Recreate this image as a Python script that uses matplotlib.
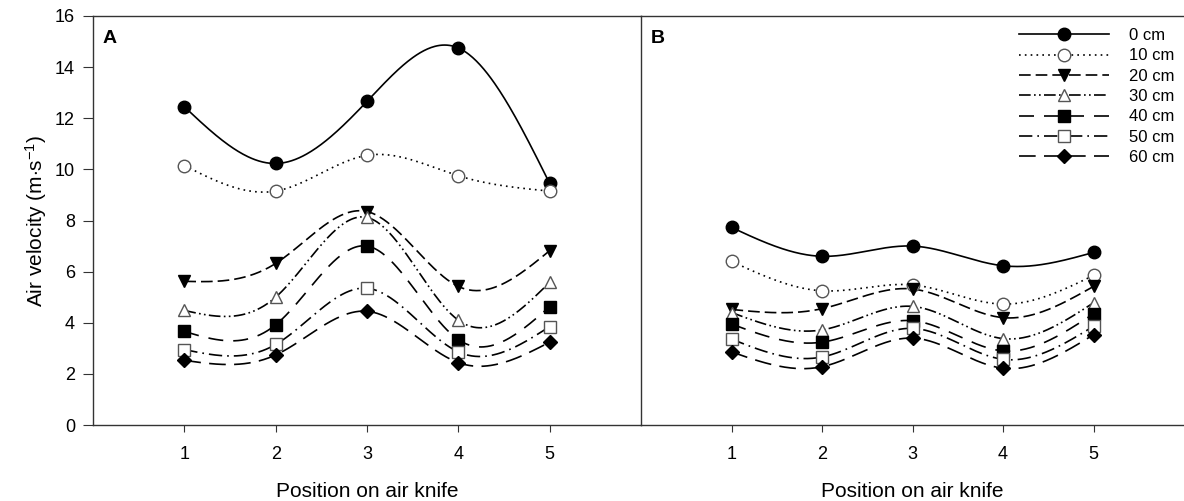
import numpy as np
import matplotlib
matplotlib.use("Agg")
import matplotlib.pyplot as plt

plt.rcParams['font.family'] = ['Liberation Sans', 'DejaVu Sans']
plt.rcParams['mathtext.fontset'] = 'custom'
plt.rcParams['mathtext.rm'] = 'Liberation Sans'
plt.rcParams['mathtext.it'] = 'Liberation Sans'

positions = [1, 2, 3, 4, 5]
heights = ["0 cm", "10 cm", "20 cm", "30 cm", "40 cm", "50 cm", "60 cm"]

# panel A air velocity (m/s) for each distance below the knife
vel_a_0 = [12.45, 10.23, 12.66, 14.75, 9.45]
vel_a_10 = [10.15, 9.15, 10.55, 9.75, 9.15]
vel_a_20 = [5.62, 6.32, 8.35, 5.42, 6.82]
vel_a_30 = [4.48, 5.0, 8.12, 4.1, 5.58]
vel_a_40 = [3.66, 3.92, 7.0, 3.34, 4.63]
vel_a_50 = [2.95, 3.15, 5.35, 2.86, 3.85]
vel_a_60 = [2.53, 2.74, 4.45, 2.44, 3.24]

# panel B
vel_b_0 = [7.73, 6.6, 7.0, 6.23, 6.75]
vel_b_10 = [6.4, 5.25, 5.48, 4.73, 5.85]
vel_b_20 = [4.52, 4.55, 5.32, 4.2, 5.42]
vel_b_30 = [4.4, 3.72, 4.64, 3.38, 4.78]
vel_b_40 = [3.95, 3.24, 4.08, 2.9, 4.35]
vel_b_50 = [3.36, 2.66, 3.78, 2.57, 3.86]
vel_b_60 = [2.86, 2.28, 3.4, 2.22, 3.53]

series_a = [vel_a_0, vel_a_10, vel_a_20, vel_a_30, vel_a_40, vel_a_50, vel_a_60]
series_b = [vel_b_0, vel_b_10, vel_b_20, vel_b_30, vel_b_40, vel_b_50, vel_b_60]

styles = [
    dict(marker='o', mfc='black', ms=9, dashes=()),
    dict(marker='o', mfc='white', ms=9, dashes=(1, 2.5)),
    dict(marker='v', mfc='black', ms=9, dashes=(7, 3)),
    dict(marker='^', mfc='white', ms=9, dashes=(7, 2, 1, 2, 1, 2)),
    dict(marker='s', mfc='black', ms=8, dashes=(9, 6)),
    dict(marker='s', mfc='white', ms=8, dashes=(8, 3, 1, 3)),
    dict(marker='D', mfc='black', ms=7, dashes=(10, 5)),
]


def natural_spline(x, y, n=300):
    x = np.asarray(x, float)
    y = np.asarray(y, float)
    h = np.diff(x)
    k = len(x)
    A = np.zeros((k, k))
    r = np.zeros(k)
    A[0, 0] = A[-1, -1] = 1
    for i in range(1, k - 1):
        A[i, i - 1] = h[i - 1]
        A[i, i] = 2 * (h[i - 1] + h[i])
        A[i, i + 1] = h[i]
        r[i] = 6 * ((y[i + 1] - y[i]) / h[i] - (y[i] - y[i - 1]) / h[i - 1])
    m = np.linalg.solve(A, r)
    xs = np.linspace(x[0], x[-1], n)
    j = np.clip(np.searchsorted(x, xs) - 1, 0, k - 2)
    t0 = x[j + 1] - xs
    t1 = xs - x[j]
    hj = h[j]
    ys = (m[j] * t0**3 + m[j + 1] * t1**3) / (6 * hj) \
        + (y[j] / hj - m[j] * hj / 6) * t0 \
        + (y[j + 1] / hj - m[j + 1] * hj / 6) * t1
    return xs, ys


fig = plt.figure(figsize=(11.84, 5.01), dpi=100)
ax_a = fig.add_axes([93 / 1184, 1 - 425 / 501, 548 / 1184, 409 / 501])
ax_b = fig.add_axes([641 / 1184, 1 - 425 / 501, 543 / 1184, 409 / 501])

spine_col = '#333333'
for ax, data, letter in [(ax_a, series_a, 'A'), (ax_b, series_b, 'B')]:
    for vals, st, lab in zip(data, styles, heights):
        xs, ys = natural_spline(positions, vals)
        ax.plot(xs, ys, color='black', lw=1.2, dashes=st['dashes'], zorder=2)
        ax.plot(positions, vals, ls='none', marker=st['marker'], ms=st['ms'],
                mfc=st['mfc'], mec='black' if st['mfc'] == 'black' else '#555555',
                mew=1.0, zorder=3)
    ax.set_xlim(0, 6)
    ax.set_ylim(0, 16)
    ax.set_xticks(positions)
    ax.tick_params(axis='x', direction='out', length=5, width=0.8,
                   colors=spine_col, labelcolor='black', labelsize=13, pad=10)
    ax.set_xlabel('Position on air knife', fontsize=15, labelpad=14)
    ax.text(0.018, 0.965, letter, transform=ax.transAxes, fontsize=14,
            fontweight='bold', va='top', ha='left')
    for s in ax.spines.values():
        s.set_color(spine_col)
        s.set_linewidth(1.0)
    ax.spines['right'].set_visible(False)

ax_a.set_yticks(np.arange(0, 17, 2))
ax_a.tick_params(axis='y', direction='out', length=7, width=0.8,
                 colors=spine_col, labelcolor='black', labelsize=13, pad=6)
ax_a.set_ylabel('Air velocity (m$\\cdot$s$^{-1}$)', fontsize=15, labelpad=4)
ax_b.set_yticks([])

# legend handles with one marker at the middle of each line sample
handles = []
for st, lab in zip(styles, heights):
    h, = ax_b.plot([], [], color='black', lw=1.2, dashes=st['dashes'],
                   marker=st['marker'], ms=st['ms'], mfc=st['mfc'],
                   mec='black' if st['mfc'] == 'black' else '#555555', label=lab)
    handles.append(h)
ax_b.legend(handles=handles, loc='upper right', bbox_to_anchor=(1.0, 0.995),
            frameon=False, fontsize=12, handlelength=5.4, handletextpad=1.2,
            labelspacing=0.32, borderaxespad=0.2)

fig.savefig('out.png', dpi=100)
